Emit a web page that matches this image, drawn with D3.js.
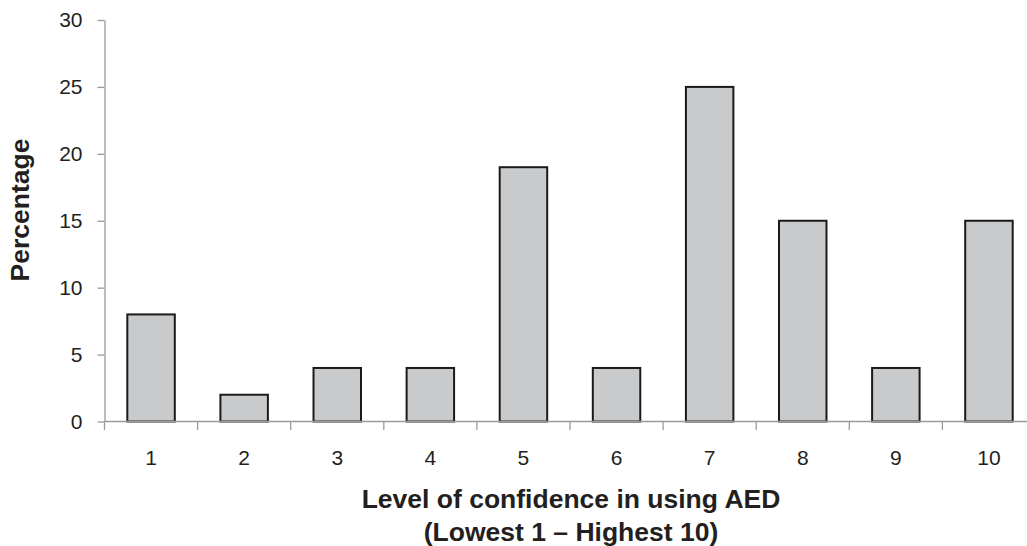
<!DOCTYPE html>
<html><head><meta charset="utf-8">
<script src="https://cdn.jsdelivr.net/npm/d3@7"></script>
<style>body{margin:0;background:#fff}svg{display:block;font-family:"Liberation Sans",Arial,sans-serif}</style>
</head><body>
<svg id="c" width="1027" height="546"></svg>
<script>
const categories = ["1","2","3","4","5","6","7","8","9","10"];
const values = [8, 2, 4, 4, 19, 4, 25, 15, 4, 15];
const yTicks = [0, 5, 10, 15, 20, 25, 30];
const xTitle = ["Level of confidence in using AED", "(Lowest 1 \u2013 Highest 10)"];
const yTitle = "Percentage";

const svg = d3.select("#c");
const x0 = 104.5, bandW = 93.1;
const x = d3.scaleBand().domain(categories).range([x0, x0 + bandW * categories.length]).paddingInner(0.49).paddingOuter(0.245);
const y = d3.scaleLinear().domain([0, 30]).range([421.5, 20]);
const axisColor = "#9a9a9a";
const textColor = "#231f20";

// bars
svg.append("g").selectAll("rect").data(values).join("rect")
  .attr("x", (d,i) => x(categories[i]))
  .attr("width", x.bandwidth())
  .attr("y", d => y(d))
  .attr("height", d => y(0) - y(d))
  .attr("fill", "#c9cacc")
  .attr("stroke", "#1a1a1a")
  .attr("stroke-width", 2);

// y axis
const ya = svg.append("g").attr("transform", `translate(${x0},0)`)
  .call(d3.axisLeft(y).tickValues(yTicks).tickSize(7).tickSizeOuter(0));
ya.select(".domain").attr("stroke", axisColor).attr("stroke-width", 1.3);
ya.selectAll(".tick line").attr("stroke", axisColor).attr("stroke-width", 1.3);
ya.selectAll(".tick text").attr("font-size", 21).attr("fill", textColor).attr("x", -22)
  .attr("font-family", "Liberation Sans, Arial, sans-serif");

// x axis line and category boundary ticks
const g = svg.append("g");
g.append("line").attr("x1", x0).attr("x2", 1027).attr("y1", y(0)).attr("y2", y(0))
  .attr("stroke", axisColor).attr("stroke-width", 1.3);
const bounds = d3.range(0, categories.length + 1).map(i => x0 + i * bandW);
g.selectAll("line.bt").data(bounds).join("line").attr("class","bt")
  .attr("x1", d => d).attr("x2", d => d).attr("y1", y(0)).attr("y2", y(0) + 8.5)
  .attr("stroke", axisColor).attr("stroke-width", 1.3);
g.selectAll("text.xl").data(categories).join("text").attr("class","xl")
  .attr("x", d => x(d) + x.bandwidth()/2).attr("y", 465)
  .attr("text-anchor", "middle").attr("font-size", 21).attr("fill", textColor).text(d => d);

// titles
svg.append("g").selectAll("text").data(xTitle).join("text")
  .attr("x", 571).attr("y", (d,i) => 507.5 + i * 33)
  .attr("text-anchor", "middle").attr("font-size", 26.5).attr("font-weight", "bold").attr("fill", textColor).text(d => d);
svg.append("text").attr("transform", "translate(29,210) rotate(-90)")
  .attr("text-anchor", "middle").attr("font-size", 26.5).attr("font-weight", "bold").attr("fill", textColor).text(yTitle);
</script>
</body></html>
